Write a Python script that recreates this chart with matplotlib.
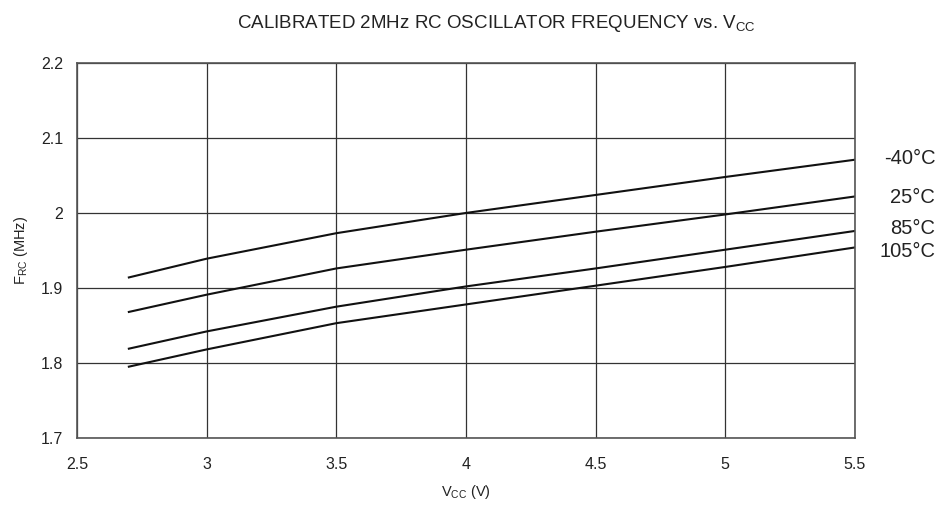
import numpy as np
import matplotlib
matplotlib.use("Agg")
import matplotlib.pyplot as plt

plt.rcParams['font.family'] = ['Liberation Sans', 'DejaVu Sans']
plt.rcParams['mathtext.default'] = 'regular'

# supply voltage (V)
vcc = [2.7, 3.0, 3.5, 4.0, 4.5, 5.0, 5.5]

# calibrated RC frequency (MHz) per temperature
f_m40 = [1.914, 1.939, 1.973, 2.000, 2.024, 2.048, 2.071]
f_25  = [1.868, 1.891, 1.926, 1.951, 1.975, 1.998, 2.022]
f_85  = [1.819, 1.842, 1.875, 1.902, 1.926, 1.951, 1.976]
f_105 = [1.795, 1.818, 1.853, 1.878, 1.903, 1.928, 1.954]

curves = [f_m40, f_25, f_85, f_105]
labels = ["-40°C", "25°C", "85°C", "105°C"]
label_y = [2.072, 2.021, 1.979, 1.948]

fig = plt.figure(figsize=(9.39, 5.08), dpi=100)
ax = fig.add_axes([0.082, 0.138, 0.8285, 0.738])

for f in curves:
    ax.plot(vcc, f, color="#111111", lw=1.5)

ax.set_xlim(2.5, 5.5)
ax.set_ylim(1.7, 2.2)
ax.set_xticks([2.5, 3, 3.5, 4, 4.5, 5, 5.5])
ax.set_xticklabels(["2.5", "3", "3.5", "4", "4.5", "5", "5.5"])
ax.set_yticks([1.7, 1.8, 1.9, 2.0, 2.1, 2.2])
ax.set_yticklabels(["1.7", "1.8", "1.9", "2", "2.1", "2.2"])
ax.tick_params(length=0, labelsize=11.5, colors="#222222")
ax.tick_params(axis='y', pad=10)
ax.tick_params(axis='x', pad=14)
ax.grid(True, color="#333333", lw=0.9)
for s in ax.spines.values():
    s.set_color("#555555")
    s.set_linewidth(1.2)

for lab, y in zip(labels, label_y):
    ax.text(5.81, y, lab, ha="right", va="center", fontsize=14.5,
            color="#222222", clip_on=False)

fig.text(0.528, 0.953, r"CALIBRATED 2MHz RC OSCILLATOR FREQUENCY vs. V$_{CC}$",
         ha="center", va="center", fontsize=13.5, color="#222222")
ax.set_xlabel(r"V$_{CC}$ (V)", fontsize=10.5, color="#222222", labelpad=8)
ax.set_ylabel(r"F$_{RC}$ (MHz)", fontsize=10.5, color="#222222", labelpad=8)

fig.savefig("out.png", dpi=100)
